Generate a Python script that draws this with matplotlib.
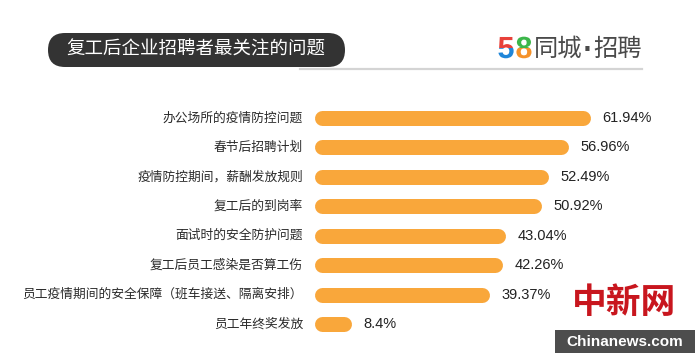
import matplotlib
matplotlib.use("Agg")
import matplotlib.pyplot as plt
import matplotlib.colors as mcolors
from matplotlib.patches import FancyBboxPatch, Rectangle
from matplotlib.patheffects import AbstractPathEffect
from matplotlib.transforms import Bbox

plt.rcParams['font.family'] = ['Noto Sans CJK SC', 'DejaVu Sans']

# data
categories = [
    "办公场所的疫情防控问题",
    "春节后招聘计划",
    "疫情防控期间，薪酬发放规则",
    "复工后的到岗率",
    "面试时的安全防护问题",
    "复工后员工感染是否算工伤",
    "员工疫情期间的安全保障（班车接送、隔离安排）",
    "员工年终奖发放",
]
values = [61.94, 56.96, 52.49, 50.92, 43.04, 42.26, 39.37, 8.4]
value_labels = ["61.94%", "56.96%", "52.49%", "50.92%", "43.04%", "42.26%", "39.37%", "8.4%"]
title = "复工后企业招聘者最关注的问题"

W, H = 700, 360


class TwoTone(AbstractPathEffect):
    """draw a glyph in one colour above a split line and another below it"""

    def __init__(self, top, bottom, split):
        super().__init__()
        self.top, self.bottom, self.split = top, bottom, split

    def draw_path(self, renderer, gc, tpath, affine, rgbFace=None):
        for color, box in [(self.top, Bbox([[0, self.split], [W, H]])),
                           (self.bottom, Bbox([[0, 0], [W, self.split]]))]:
            gc0 = renderer.new_gc()
            gc0.copy_properties(gc)
            gc0.set_clip_rectangle(box)
            renderer.draw_path(gc0, tpath, affine, mcolors.to_rgba(color))
            gc0.restore()


fig = plt.figure(figsize=(W / 100, H / 100), dpi=100)
fig.patch.set_facecolor("white")

# overlay in pixel coords for header / watermark
ov = fig.add_axes([0, 0, 1, 1])
ov.set_xlim(0, W)
ov.set_ylim(H, 0)
ov.axis("off")

# bar axes: bars start at x=314 px, 4.46 px per percent
px_per_pct = 4.46
x0, y_top, y_bot = 314, 90, 350
ax = fig.add_axes([x0 / W, (H - y_bot) / H, (W - x0) / W, (y_bot - y_top) / H])
ax.set_xlim(0, (W - x0) / px_per_pct)
step = 29.43
first = 118
ax.set_ylim((y_bot - first) / step, -(first - y_top) / step)
ax.axis("off")
ax.patch.set_alpha(0)

bar_h = 15  # px
r = bar_h / 2 / px_per_pct
ys = list(range(len(values)))
ax.hlines(ys, [r] * len(values), [v - r for v in values], colors="#F9A73B",
          linewidth=bar_h * 0.72, capstyle="round")

for y, cat, v, lab in zip(ys, categories, values, value_labels):
    ax.text(-11 / px_per_pct, y, cat, ha="right", va="center", fontsize=9.2,
            color="#2a2a2a", weight="medium", clip_on=False)
    ax.text(v + 12 / px_per_pct, y, lab, ha="left", va="center", fontsize=10.5,
            color="#222222", family=["Liberation Sans", "DejaVu Sans"])

# header: gray rule + title pill
ov.plot([300, 642], [68.5, 68.5], color="#d4d4d4", linewidth=1.6, zorder=1)
pill = FancyBboxPatch((48, 33), 297, 34, boxstyle="round,pad=0,rounding_size=17",
                      facecolor="#333333", edgecolor="none", zorder=2)
ov.add_patch(pill)
ov.text(196, 50, title, ha="center", va="center", fontsize=13.3, color="white",
        weight="medium", zorder=3)

# logo "58同城·招聘" - two-tone digits
split_y = H - 48  # display coords (from bottom)
for ch, x, top_c, bot_c in [("5", 506, "#e8413a", "#1f86d9"), ("8", 524, "#3cb64a", "#f5922a")]:
    ov.text(x, 50, ch, ha="center", va="center", fontsize=22, weight="bold",
            color=bot_c, family=["Liberation Sans", "DejaVu Sans"],
            path_effects=[TwoTone(top_c, bot_c, split_y)])
ov.text(534, 49, "同城", ha="left", va="center", fontsize=17.5, color="#4a4a4a")
ov.text(587, 50, "·", ha="center", va="center", fontsize=17, weight="bold",
        color="#4a4a4a", family=["DejaVu Sans"])
ov.text(593, 49, "招聘", ha="left", va="center", fontsize=17.5, color="#4a4a4a")

# watermark
ov.text(624, 303, "中新网", ha="center", va="center", fontsize=25, weight="bold",
        color="#c8161e")
ov.add_patch(Rectangle((555, 330), 140, 23, facecolor="#4d4d4d", edgecolor="none"))
ov.text(625, 342, "Chinanews.com", ha="center", va="center", fontsize=11, weight="bold",
        color="white", family=["Liberation Sans", "DejaVu Sans"])

fig.savefig("out.png", dpi=100, facecolor="white")
